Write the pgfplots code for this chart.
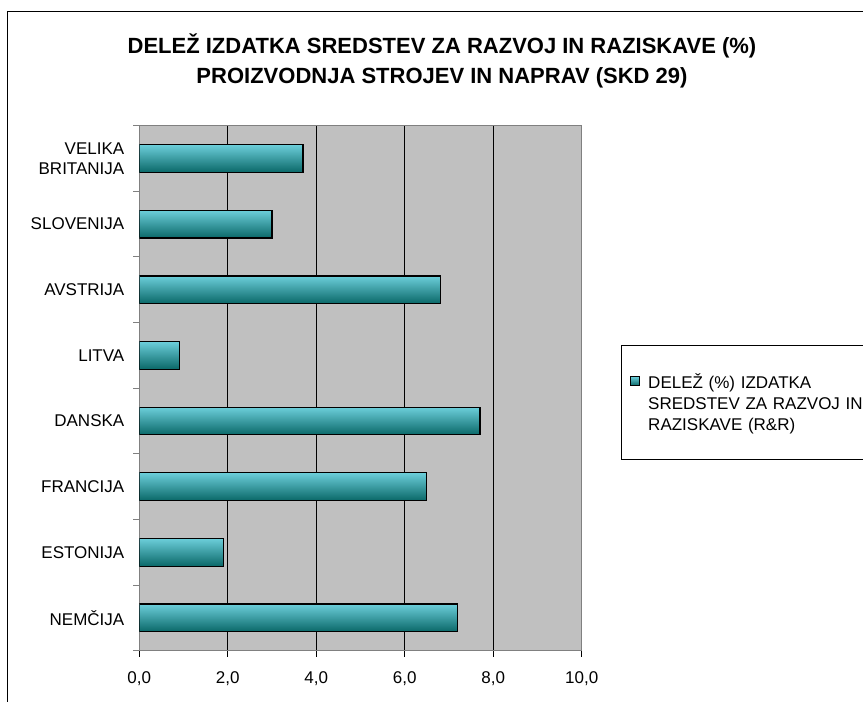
\documentclass[border=0pt]{standalone}
\usepackage{pgfplots}
\pgfplotsset{compat=1.18}
\usepackage{fontspec}
\setmainfont{Liberation Sans}

\definecolor{bggray}{RGB}{192,192,192}
\definecolor{framegray}{RGB}{128,128,128}
\definecolor{barTop}{RGB}{108,206,218}
\definecolor{barMid}{RGB}{28,181,178}
\definecolor{barBot}{RGB}{10,104,104}

\begin{document}
\begin{tikzpicture}[x=1bp,y=1bp]
\useasboundingbox (0,0) rectangle (863,702);
\clip (0,0) rectangle (863,702);
% outer chart frame (right and bottom sides lie off the page)
\draw[line width=1bp] (7.5,-5) -- (7.5,690) -- (870,690);

\node[font=\fontsize{22bp}{25bp}\selectfont\bfseries, anchor=base] at (442,648)
  {DELEŽ IZDATKA SREDSTEV ZA RAZVOJ IN RAZISKAVE (\%)};
\node[font=\fontsize{22bp}{25bp}\selectfont\bfseries, anchor=base] at (442,618.7)
  {PROIZVODNJA STROJEV IN NAPRAV (SKD 29)};

\begin{axis}[
    at={(139.3bp,51.3bp)}, anchor=south west,
    scale only axis, width=442.4bp, height=525bp,
    xmin=0, xmax=10, ymin=-0.5, ymax=7.5,
    axis background/.style={fill=bggray},
    axis line style={draw=framegray, line width=1bp},
    xtick={0,2,...,10},
    xticklabel={\pgfmathprintnumber[fixed,fixed zerofill,precision=1,use comma,assume math mode=true]{\tick}},
    ytick={0,...,7},
    yticklabels={NEMČIJA, ESTONIJA, FRANCIJA, DANSKA, LITVA, AVSTRIJA, SLOVENIJA, {VELIKA\\BRITANIJA}},
    minor ytick={-0.5,0.5,...,7.5},
    tick align=outside, tick pos=left,
    major tick length=6bp, minor tick length=6bp,
    major y tick style={draw=none},
    minor y tick style={draw=framegray, line width=1bp},
    major x tick style={draw=black, line width=1bp},
    xmajorgrids,
    major grid style={black, line width=1bp},
    tick label style={font=\fontsize{17bp}{19.5bp}\selectfont},
    yticklabel style={align=right, xshift=-5.5bp},
    xticklabel style={yshift=-11.5bp},
    legend style={at={(1.088,0.582)}, anchor=north west, draw=black, line width=1bp,
        inner xsep=8.6bp, inner ysep=26bp,
        font=\fontsize{17bp}{21bp}\selectfont,
        cells={align=left, inner sep=0bp}, column sep=6.7bp},
    % the marker sits level with the first of the three text lines
    legend image code/.code={
        \path[draw=none, fill=none] (0bp,-26bp) (0bp,26bp);
        \draw[#1, line width=0.8bp] (0bp,17bp) rectangle (9bp,26bp);},
    barstyle/.style={xbar, bar width=27.7bp, bar shift=0pt, draw=black, line width=1.2bp,
        top color=barTop, middle color=barMid, bottom color=barBot},
]
% one plot per bar so that every bar gets its own shading
\addplot[barstyle] coordinates {(7.2,0)};
\addlegendentry[text width=230bp, text depth=43bp]{DELEŽ (\%) IZDATKA\\SREDSTEV ZA RAZVOJ IN\\RAZISKAVE (R\&R)}
\addplot[barstyle, forget plot] coordinates {(1.9,1)};
\addplot[barstyle, forget plot] coordinates {(6.5,2)};
\addplot[barstyle, forget plot] coordinates {(7.7,3)};
\addplot[barstyle, forget plot] coordinates {(0.9,4)};
\addplot[barstyle, forget plot] coordinates {(6.8,5)};
\addplot[barstyle, forget plot] coordinates {(3.0,6)};
\addplot[barstyle, forget plot] coordinates {(3.7,7)};
\end{axis}
\end{tikzpicture}
\end{document}
